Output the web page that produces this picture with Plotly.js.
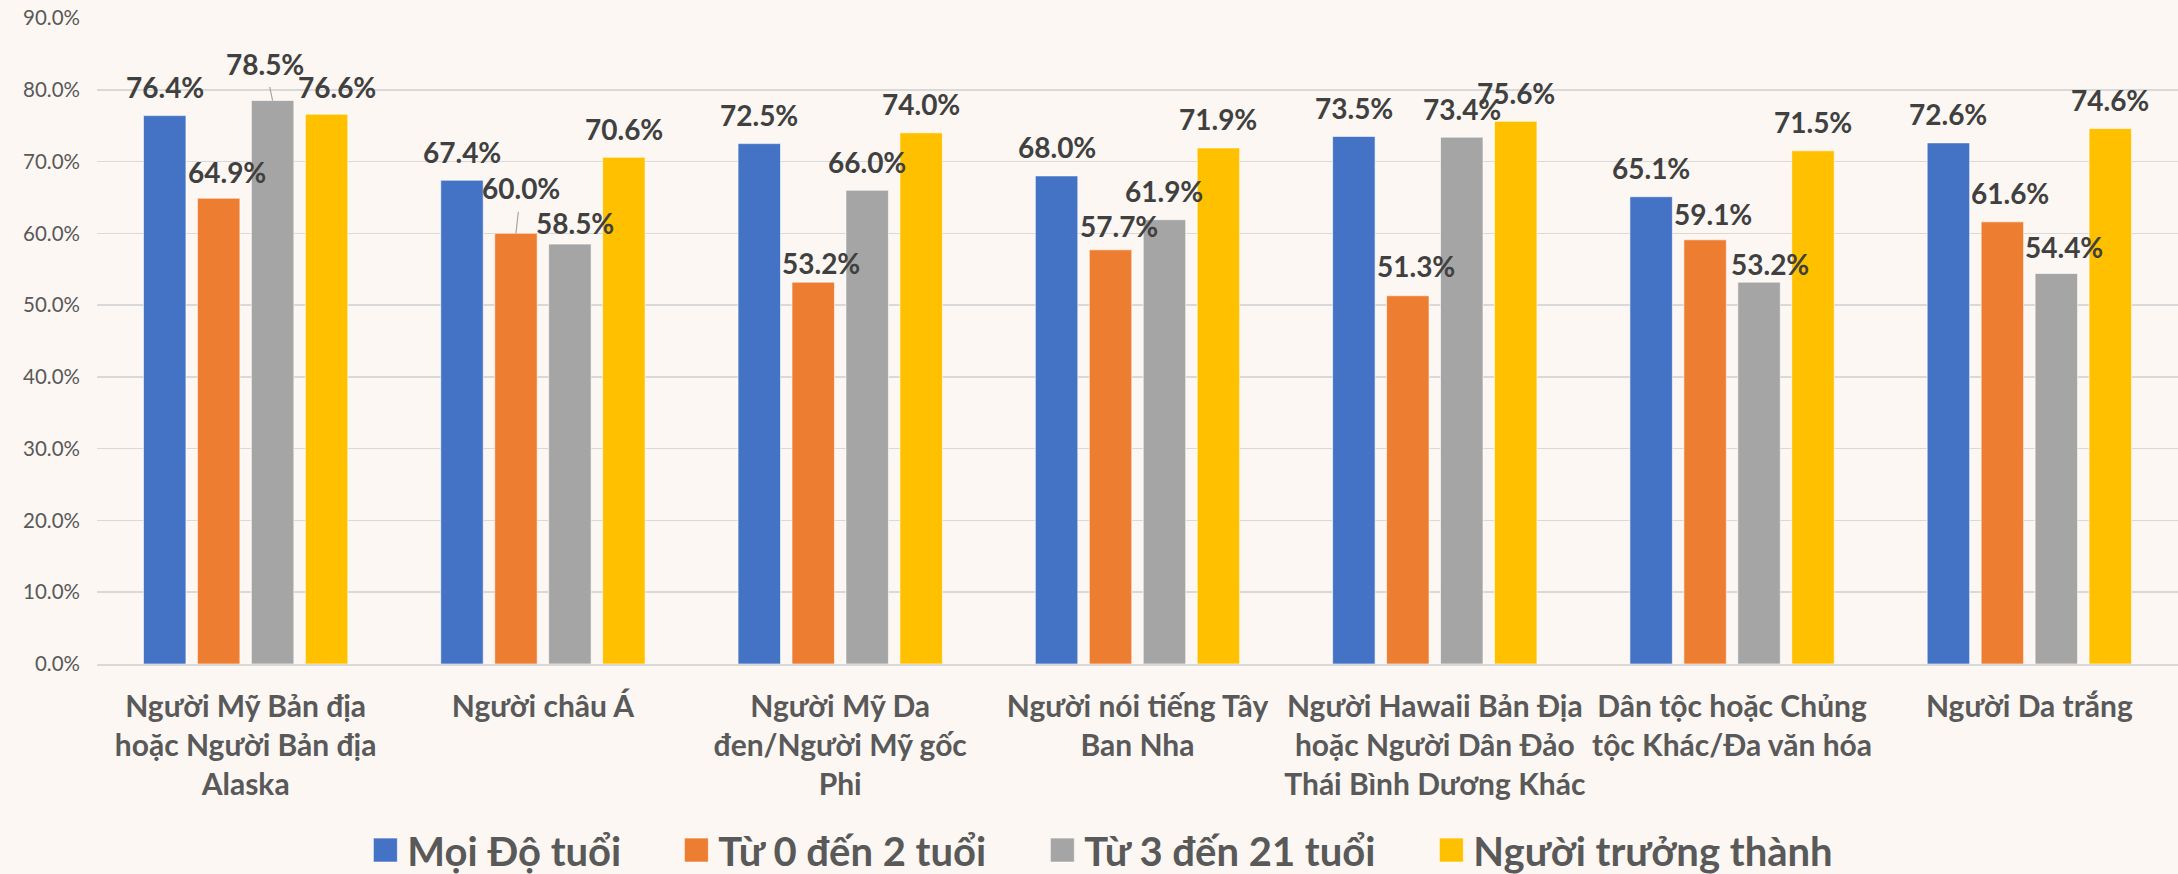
<!DOCTYPE html>
<html>
<head>
<meta charset="utf-8">
<script src="https://cdn.plot.ly/plotly-3.0.1.min.js"></script>
<style>
html,body{margin:0;padding:0;background:#fcf7f3;}
#chart{width:2178px;height:874px;}
</style>
</head>
<body>
<div id="chart"></div>
<script>
// ---- data ----
const categories = [
  "Người Mỹ Bản địa hoặc Người Bản địa Alaska",
  "Người châu Á",
  "Người Mỹ Da đen/Người Mỹ gốc Phi",
  "Người nói tiếng Tây Ban Nha",
  "Người Hawaii Bản Địa hoặc Người Dân Đảo Thái Bình Dương Khác",
  "Dân tộc hoặc Chủng tộc Khác/Đa văn hóa",
  "Người Da trắng"
];
const tickLabels = [
  "Người Mỹ Bản địa<br>hoặc Người Bản địa<br>Alaska",
  "Người châu Á",
  "Người Mỹ Da<br>đen/Người Mỹ gốc<br>Phi",
  "Người nói tiếng Tây<br>Ban Nha",
  "Người Hawaii Bản Địa<br>hoặc Người Dân Đảo<br>Thái Bình Dương Khác",
  "Dân tộc hoặc Chủng<br>tộc Khác/Đa văn hóa",
  "Người Da trắng"
];
const seriesNames = ["Mọi Độ tuổi", "Từ 0 đến 2 tuổi", "Từ 3 đến 21 tuổi", "Người trưởng thành"];
const moiDoTuoi   = [76.4, 67.4, 72.5, 68.0, 73.5, 65.1, 72.6];
const tu0den2     = [64.9, 60.0, 53.2, 57.7, 51.3, 59.1, 61.6];
const tu3den21    = [78.5, 58.5, 66.0, 61.9, 73.4, 53.2, 54.4];
const nguoiTruongThanh = [76.6, 70.6, 74.0, 71.9, 75.6, 71.5, 74.6];
const seriesValues = [moiDoTuoi, tu0den2, tu3den21, nguoiTruongThanh];

// ---- styles ----
const colors = ["#4472c4", "#ed7d31", "#a5a5a5", "#ffc000"];
const legendWidths = [262, 317, 340, 380];
const FONT = "Lato, 'Noto Sans', sans-serif";
const W = 2178, H = 874;
const M = {l: 97, r: 0, t: 18, b: 210, autoexpand: false};
const BARGAP = 0.274, GROUPGAP = 0.213;
// label nudges: [dx, px above bar top, leader line], keyed "category,series"
const defaultAbove = 28.5;
const nudges = {
  "0,1": [8, 26], "0,2": [-8, 37, true], "0,3": [10, 27],
  "1,1": [5, 45, true], "1,2": [5, 21],
  "2,1": [8, 19],
  "3,1": [8, 24],
  "4,1": [8, 29.5],
  "5,1": [8, 26], "5,2": [11, 18.5],
  "6,1": [8, 29], "6,2": [8, 27]
};

const traces = seriesNames.map((name, s) => ({
  type: "bar",
  name: name,
  x: categories,
  y: seriesValues[s],
  marker: {color: colors[s], line: {color: "rgba(255,255,255,0.6)", width: 1}},
  legendwidth: legendWidths[s],
  hoverinfo: "x+y"
}));

const plotW = W - M.l - M.r;
const catW = plotW / categories.length;
const slot = catW * (1 - BARGAP) / seriesNames.length;

const annotations = [];
seriesNames.forEach((name, s) => {
  const off = (s - (seriesNames.length - 1) / 2) * slot;
  categories.forEach((cat, c) => {
    const n = nudges[c + "," + s] || [0, defaultAbove];
    const v = seriesValues[s][c];
    const a = {
      x: cat, y: v, xref: "x", yref: "y",
      text: v.toFixed(1) + "%",
      font: {family: FONT, size: 28, color: "#404040", weight: "bold"},
      xanchor: "center", yanchor: "middle"
    };
    if (n[2]) {
      Object.assign(a, {showarrow: true, arrowhead: 0, arrowwidth: 1.2, arrowcolor: "#a6a6a6",
        xshift: off, ax: n[0], ay: -n[1], standoff: 0, startstandoff: 5});
    } else {
      Object.assign(a, {showarrow: false, xshift: off + n[0], yshift: n[1]});
    }
    annotations.push(a);
  });
});

const layout = {
  width: W, height: H,
  margin: M,
  paper_bgcolor: "#fcf7f3",
  plot_bgcolor: "#fcf7f3",
  barmode: "group",
  bargap: BARGAP,
  bargroupgap: GROUPGAP,
  font: {family: FONT, color: "#595959"},
  xaxis: {
    type: "category",
    tickvals: categories,
    ticktext: tickLabels,
    tickfont: {family: FONT, size: 30, color: "#595959", weight: "bold"},
    showline: true, linecolor: "#d9d9d9", linewidth: 2,
    ticks: "", ticklabelstandoff: 15,
    showgrid: false, fixedrange: true
  },
  yaxis: {
    range: [0, 90], dtick: 10, tick0: 0,
    tickformat: ".1f", ticksuffix: "%",
    tickfont: {family: FONT, size: 20.5, color: "#595959"},
    showgrid: true, gridcolor: "#d9d9d9", gridwidth: 1.5,
    zeroline: false, showline: false,
    ticks: "", ticklabelstandoff: 16, fixedrange: true
  },
  showlegend: true,
  legend: {
    orientation: "h",
    x: 0.128, xanchor: "left",
    y: -0.288, yanchor: "middle",
    itemwidth: 34,
    font: {family: FONT, size: 40, color: "#595959", weight: "bold"},
    bgcolor: "rgba(0,0,0,0)",
    itemclick: false, itemdoubleclick: false
  },
  annotations: annotations
};

Plotly.newPlot("chart", traces, layout, {displayModeBar: false, staticPlot: true}).then(() => {
  document.querySelectorAll(".legend .legendpoints path").forEach(p => {
    p.setAttribute("d", "M12,12H-12V-12H12Z");
  });
});
</script>
</body>
</html>
